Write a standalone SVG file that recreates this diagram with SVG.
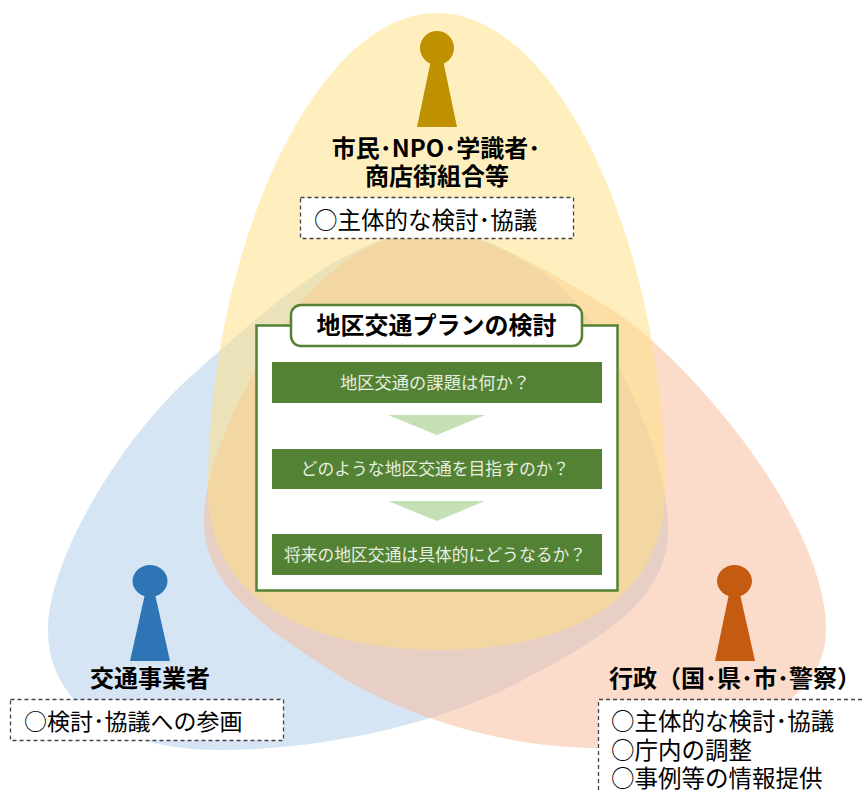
<svg xmlns="http://www.w3.org/2000/svg" width="862" height="794" viewBox="0 0 862 794">
<style>
text{font-family:"Noto Sans CJK JP","Open Sans",sans-serif;fill:#000}
.h{font-weight:700;font-size:24px;text-anchor:middle}
.b{font-size:23.5px}
.w{font-size:16.800px;fill:#e6efe0;text-anchor:middle}
.d{fill:#fff;stroke:#444;stroke-width:1.300;stroke-dasharray:4 3}
.g{fill:#548235}
.t{fill:#c5e0b4}
.e{fill-opacity:.5}
</style>
<g id="connectors"></g>
<g id="ovals">
<path id="oval-left" class="e" fill="#adcbe9" d="M435 230C475 230 520 255 557 283C610 330 668 450 668 530C668 600 600 640 523 680C440 725 320 750 220 750C110 750 48 700 48 630C48 560 120 440 190 377C250 325 345 230 435 230Z"/>
<path id="oval-right" class="e" fill="#f7b997" d="M435 230C480 232 550 270 617 313C690 362 826 520 826 630C826 710 720 748 600 748C500 748 400 715 330 670C260 625 204 585 204 520C204 455 258 355 303 300C335 262 385 230 435 230Z"/>
<path id="oval-top" class="e" fill="#ffdf7d" d="M437 13C560 13 665 250 665 490C665 600 570 650 437 650C310 650 208 600 208 490C208 250 315 13 437 13Z"/>
</g>
<g id="person-top"><circle cx="437" cy="48" r="17" fill="#bf9000"/><path d="M431 60H443L457 127H417Z" fill="#bf9000"/></g>
<g id="person-left"><ellipse cx="150" cy="581" rx="17.500" ry="16" fill="#2e75b6"/><path d="M145 594H155L170 661H130Z" fill="#2e75b6"/></g>
<g id="person-right"><ellipse cx="734.500" cy="581" rx="17.500" ry="16" fill="#c55a11"/><path d="M729 594H740L755 661H715Z" fill="#c55a11"/></g>
<g id="label-top">
<text class="h" x="436" y="157">市民･NPO･学識者･</text>
<text class="h" x="437" y="185">商店街組合等</text>
<rect class="d" x="300.500" y="197.500" width="273" height="41"/>
<text class="b" x="314" y="229">○主体的な検討･協議</text>
</g>
<g id="label-left">
<text class="h" x="150" y="687">交通事業者</text>
<rect class="d" x="10.500" y="699.500" width="273" height="41"/>
<text class="b" x="24" y="730" style="font-size:23px">○検討･協議への参画</text>
</g>
<g id="label-right">
<text class="h" x="735" y="687">行政（国･県･市･警察）</text>
<path d="M598.500 700H862V794H598.500Z" fill="#fff"/>
<path d="M598.500 790V699.500H862" fill="none" stroke="#444" stroke-width="1.300" stroke-dasharray="4 3"/>
<text class="b" x="611" y="730">○主体的な検討･協議</text>
<text class="b" x="611" y="759">○庁内の調整</text>
<text class="b" x="611" y="787">○事例等の情報提供</text>
</g>
<g id="plan">
<rect x="256.500" y="325.500" width="361" height="265" fill="#fff" stroke="#548235" stroke-width="2.500"/>
<rect x="291" y="305" width="291" height="41" rx="10" fill="#fff" stroke="#548235" stroke-width="2.500"/>
<text class="h" x="436.500" y="334">地区交通プランの検討</text>
</g>
<g id="q1"><rect class="g" x="272" y="362" width="330" height="41"/><text class="w" x="435" y="389" style="font-size:17.300px">地区交通の課題は何か？</text></g>
<path id="arrow1" class="t" d="M388 415H485L437 435Z"/>
<g id="q2"><rect class="g" x="272" y="449" width="330" height="40"/><text class="w" x="435" y="475">どのような地区交通を目指すのか？</text></g>
<path id="arrow2" class="t" d="M388 501H485L437 521Z"/>
<g id="q3"><rect class="g" x="272" y="534" width="330" height="41"/><text class="w" x="435" y="561">将来の地区交通は具体的にどうなるか？</text></g>
</svg>
